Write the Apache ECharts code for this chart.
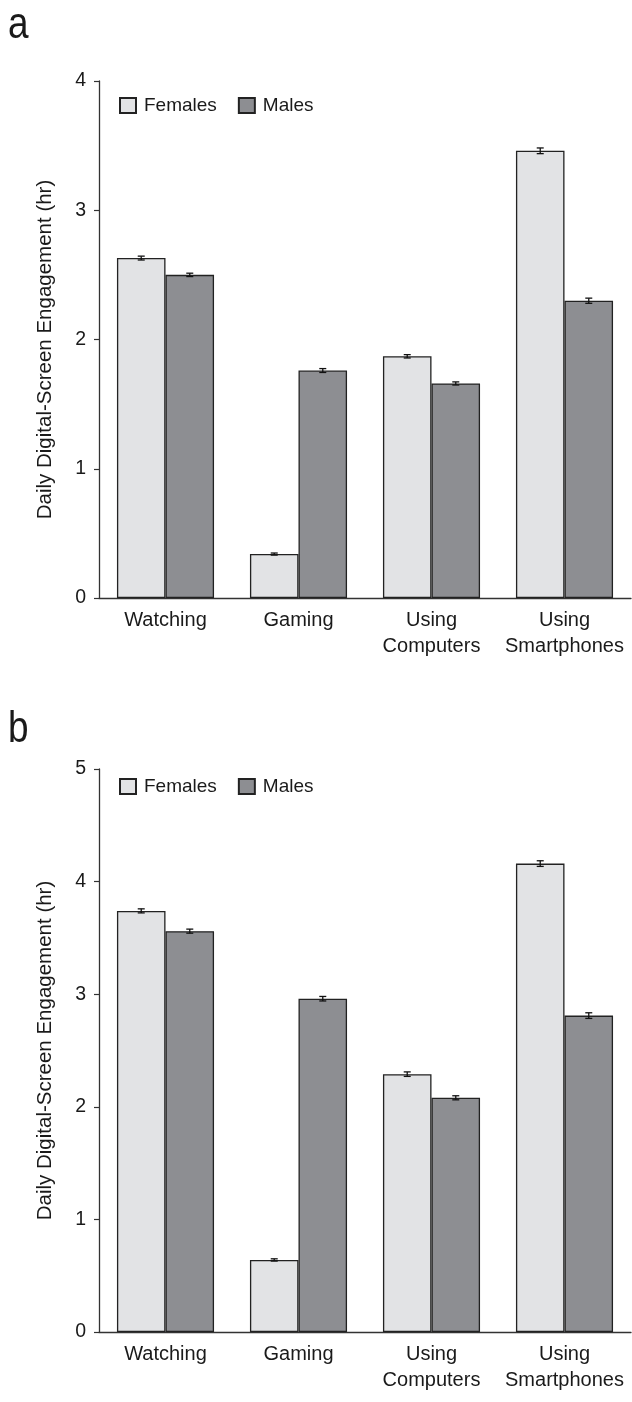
<!DOCTYPE html>
<html>
<head>
<meta charset="utf-8">
<script src="https://cdn.jsdelivr.net/npm/echarts@6/dist/echarts.min.js"></script>
<style>
  html, body { margin: 0; padding: 0; background: #fff; }
  #chart { width: 632px; height: 1402px; }
</style>
</head>
<body>
<div id="chart"></div>
<script>
// categories and values (hours per day)
const categories = ['Watching', 'Gaming', 'Using\nComputers', 'Using\nSmartphones'];
const femalesA = [2.63, 0.34, 1.87, 3.46];
const malesA = [2.50, 1.76, 1.66, 2.30];
const femalesErrA = [0.015, 0.008, 0.013, 0.022];
const malesErrA = [0.013, 0.015, 0.012, 0.020];
const femalesB = [3.74, 0.64, 2.29, 4.16];
const malesB = [3.56, 2.96, 2.08, 2.81];
const femalesErrB = [0.018, 0.010, 0.020, 0.025];
const malesErrB = [0.018, 0.020, 0.018, 0.025];
const yTicksA = { min: 0, max: 4, interval: 1 };
const yTicksB = { min: 0, max: 5, interval: 1 };

const FONT = '"Liberation Sans", Arial, sans-serif';
const INK = '#1a1a1a';
const GAP = 0.27;

function errorBars(side) {
  return function (params, api) {
    const x = api.value(0), v = api.value(1), e = api.value(2);
    const band = api.size([1, 0])[0];
    const bw = band * (1 - GAP) / 2;
    const cx = api.coord([x, v])[0] + side * bw / 2;
    const top = api.coord([x, v + e])[1];
    const bot = api.coord([x, v - e])[1];
    const w = 3.5;
    const st = { stroke: '#111', lineWidth: 1.3 };
    return {
      type: 'group',
      children: [
        { type: 'line', shape: { x1: cx, y1: top, x2: cx, y2: bot }, style: st },
        { type: 'line', shape: { x1: cx - w, y1: top, x2: cx + w, y2: top }, style: st },
        { type: 'line', shape: { x1: cx - w, y1: bot, x2: cx + w, y2: bot }, style: st }
      ]
    };
  };
}

function xAxis(gi) {
  return {
    type: 'category',
    gridIndex: gi,
    data: categories,
    axisTick: { show: false },
    axisLine: { lineStyle: { color: '#333', width: 1.3 } },
    axisLabel: { color: INK, fontSize: 20, fontFamily: FONT, margin: 9, lineHeight: 26, interval: 0 }
  };
}

function yAxis(gi, ticks, namePad) {
  return {
    type: 'value',
    gridIndex: gi,
    min: ticks.min,
    max: ticks.max,
    interval: ticks.interval,
    splitLine: { show: false },
    axisLine: { show: true, lineStyle: { color: '#333', width: 1.3 } },
    axisTick: { show: true, length: 5, lineStyle: { color: '#333', width: 1.2 } },
    axisLabel: { color: INK, fontSize: 19.5, fontFamily: FONT, margin: 13 },
    name: 'Daily Digital-Screen Engagement (hr)',
    nameLocation: 'middle',
    nameRotate: 90,
    nameGap: 43,
    nameTextStyle: { color: INK, fontSize: 20.5, fontFamily: FONT, padding: namePad }
  };
}

function bars(name, data, color, gi) {
  return {
    name: name,
    type: 'bar',
    xAxisIndex: gi,
    yAxisIndex: gi,
    data: data,
    barGap: 0,
    barCategoryGap: (GAP * 100) + '%',
    itemStyle: { color: color, borderColor: '#222', borderWidth: 1.3 },
    silent: true
  };
}

function errs(vals, err, side, gi) {
  return {
    type: 'custom',
    xAxisIndex: gi,
    yAxisIndex: gi,
    z: 5,
    silent: true,
    renderItem: errorBars(side),
    data: vals.map((v, i) => [i, v, err[i]])
  };
}

function legend(top) {
  return {
    data: ['Females', 'Males'],
    left: 114,
    top: top,
    itemWidth: 16,
    itemHeight: 15,
    itemGap: 21,
    icon: 'rect',
    selectedMode: false,
    textStyle: { color: INK, fontSize: 19, fontFamily: FONT, padding: [0, 0, 0, 3] }
  };
}

const chart = echarts.init(document.getElementById('chart'), null, { renderer: 'canvas' });
chart.setOption({
  backgroundColor: '#fff',
  animation: false,
  grid: [
    { left: 99, right: 1, top: 81, height: 517, outerBoundsMode: 'none' },
    { left: 99, right: 1, top: 769, height: 563, outerBoundsMode: 'none' }
  ],
  legend: [legend(91), legend(772)],
  xAxis: [xAxis(0), xAxis(1)],
  yAxis: [yAxis(0, yTicksA, [0, 20, 0, 0]), yAxis(1, yTicksB, [0, 0, 0, 0])],
  graphic: [
    { type: 'text', left: 8, top: 3, scaleX: 0.82, style: { text: 'a', fontSize: 45, fontFamily: FONT, fill: INK } },
    { type: 'text', left: 8, top: 707, scaleX: 0.82, style: { text: 'b', fontSize: 45, fontFamily: FONT, fill: INK } }
  ],
  series: [
    bars('Females', femalesA, '#e2e3e5', 0),
    bars('Males', malesA, '#8d8e92', 0),
    errs(femalesA, femalesErrA, -1, 0),
    errs(malesA, malesErrA, 1, 0),
    bars('Females', femalesB, '#e2e3e5', 1),
    bars('Males', malesB, '#8d8e92', 1),
    errs(femalesB, femalesErrB, -1, 1),
    errs(malesB, malesErrB, 1, 1)
  ]
});
</script>
</body>
</html>
